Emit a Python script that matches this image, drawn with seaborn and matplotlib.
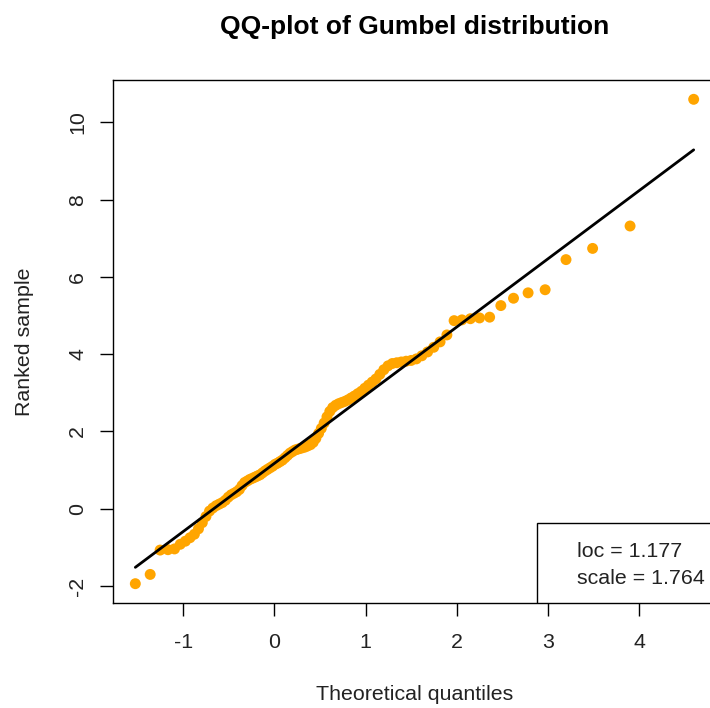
import matplotlib
matplotlib.use("Agg")
import matplotlib.pyplot as plt
from matplotlib.patches import Rectangle
import seaborn as sns
import pandas as pd

theoretical = [
    -1.527, -1.364, -1.255, -1.169, -1.097, -1.034, -0.978, -0.927, -0.879, -0.834,
    -0.792, -0.752, -0.713, -0.676, -0.640, -0.606, -0.572, -0.539, -0.507, -0.476,
    -0.445, -0.415, -0.385, -0.356, -0.327, -0.298, -0.270, -0.241, -0.213, -0.186,
    -0.158, -0.131, -0.103, -0.076, -0.049, -0.021, 0.006, 0.033, 0.060, 0.087,
    0.115, 0.142, 0.170, 0.197, 0.225, 0.253, 0.281, 0.309, 0.338, 0.367,
    0.396, 0.425, 0.454, 0.484, 0.514, 0.545, 0.576, 0.607, 0.639, 0.672,
    0.705, 0.738, 0.772, 0.807, 0.842, 0.878, 0.915, 0.953, 0.991, 1.031,
    1.072, 1.113, 1.156, 1.200, 1.246, 1.293, 1.342, 1.392, 1.445, 1.500,
    1.557, 1.617, 1.680, 1.747, 1.817, 1.892, 1.971, 2.057, 2.150, 2.250,
    2.361, 2.484, 2.623, 2.783, 2.970, 3.199, 3.491, 3.902, 4.600,
]

ranked_sample = [
    -1.94, -1.70, -1.07, -1.06, -1.04, -0.92, -0.84, -0.75, -0.66, -0.52,
    -0.36, -0.20, -0.06, 0.02, 0.08, 0.12, 0.16, 0.22, 0.30, 0.36,
    0.40, 0.44, 0.50, 0.60, 0.68, 0.72, 0.76, 0.79, 0.82, 0.85,
    0.88, 0.93, 0.98, 1.02, 1.06, 1.10, 1.15, 1.18, 1.22, 1.26,
    1.32, 1.38, 1.44, 1.48, 1.52, 1.54, 1.56, 1.58, 1.60, 1.63,
    1.66, 1.72, 1.82, 1.95, 2.08, 2.22, 2.38, 2.52, 2.62, 2.68,
    2.72, 2.75, 2.78, 2.82, 2.87, 2.92, 2.98, 3.04, 3.12, 3.20,
    3.28, 3.36, 3.48, 3.60, 3.70, 3.76, 3.78, 3.80, 3.82, 3.84,
    3.88, 3.96, 4.06, 4.18, 4.32, 4.50, 4.87, 4.89, 4.92, 4.94,
    4.96, 5.26, 5.45, 5.59, 5.67, 6.45, 6.74, 7.32, 10.60,
]

loc = 1.177
scale = 1.764

x_ticks = [-1, 0, 1, 2, 3, 4]
y_ticks = [-2, 0, 2, 4, 6, 8, 10]

df = pd.DataFrame({"q": theoretical, "s": ranked_sample})
df["fit"] = loc + scale * df["q"]

sns.set_style("ticks")
plt.rcParams["font.family"] = ["Liberation Sans", "DejaVu Sans"]

W, H = 710, 708
fig = plt.figure(figsize=(W / 100, H / 100), dpi=100)
left, right, top, bottom = 113, 716, 80, 603
ax = fig.add_axes([left / W, 1 - bottom / H, (right - left) / W, (bottom - top) / H])

sns.scatterplot(data=df, x="q", y="s", ax=ax, color="#FFA500", s=62,
                edgecolor="none", linewidth=0, zorder=2)
sns.lineplot(data=df, x="q", y="fit", ax=ax, color="black", linewidth=2.0,
             zorder=3, sort=True)

ax.set_xlim(-1.772, 4.845)
ax.set_ylim(-2.44, 11.10)
ax.set_xticks(x_ticks)
ax.set_yticks(y_ticks)
ax.set_xticklabels([str(t) for t in x_ticks])
ax.set_yticklabels([str(t) for t in y_ticks], rotation=90, va="center")

for sp in ax.spines.values():
    sp.set_visible(True)
    sp.set_color("black")
    sp.set_linewidth(1.0)

ax.tick_params(axis="both", direction="out", length=9.5, width=1.0,
               color="black", labelsize=15.4, labelcolor="#222222")
ax.tick_params(axis="x", pad=12)
ax.tick_params(axis="y", pad=9)

ax.set_xlabel("Theoretical quantiles", fontsize=15.4, color="#222222", labelpad=24)
ax.set_ylabel("Ranked sample", fontsize=15.4, color="#222222", labelpad=25)

fig.text(414.5 / W, 1 - 27 / H, "QQ-plot of Gumbel distribution",
         ha="center", va="center", fontsize=19, fontweight="bold", color="black")

# Legend-like box in the bottom right corner
rect = Rectangle((2.876, -2.44), 5.0, 2.44 - 0.363, facecolor="white",
                 edgecolor="black", linewidth=1.0, zorder=5)
ax.add_patch(rect)
ax.text(3.316, -1.114, f"loc = {loc:.3f}", ha="left", va="center",
        fontsize=15.4, color="#222222", zorder=6)
ax.text(3.316, -1.803, f"scale = {scale:.3f}", ha="left", va="center",
        fontsize=15.4, color="#222222", zorder=6)

fig.savefig("out.png", dpi=100, facecolor="white")
